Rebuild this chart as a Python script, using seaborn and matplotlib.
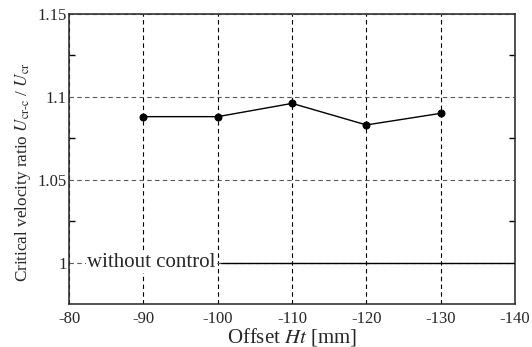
import numpy as np
import pandas as pd
import seaborn as sns
import matplotlib.pyplot as plt

offsets = [-90, -100, -110, -120, -130]
ratios = [1.088, 1.088, 1.096, 1.083, 1.090]
baseline_x = [-100.5, -140]
baseline_y = [1.0, 1.0]
x_ticks = [-80, -90, -100, -110, -120, -130, -140]
y_ticks = [1.0, 1.05, 1.1, 1.15]
y_tick_labels = ['1', '1.05', '1.1', '1.15']

sns.set_theme(style='white')
plt.rcParams['font.family'] = ['Liberation Serif', 'DejaVu Serif']
plt.rcParams['mathtext.fontset'] = 'stix'

df = pd.DataFrame({'offset': offsets, 'ratio': ratios})

fig, ax = plt.subplots(figsize=(5.32, 3.47), dpi=100)
sns.lineplot(data=df, x='offset', y='ratio', color='black', lw=1,
             marker='o', markersize=5, markeredgecolor='black', ax=ax, zorder=3)
ax.plot(baseline_x, baseline_y, color='black', lw=1, zorder=3)
ax.text(-82.4, 1.0, 'without control', fontsize=15, va='center', ha='left', zorder=4,
        bbox=dict(facecolor='white', edgecolor='none', pad=1))

ax.set_xlim(-80, -140)
ax.set_ylim(0.975, 1.15)
ax.set_xticks(x_ticks)
ax.set_xticklabels([str(v) for v in x_ticks])
ax.set_yticks(y_ticks)
ax.set_yticklabels(y_tick_labels)
ax.set_yticks([1.025, 1.075, 1.125], minor=True)
ax.tick_params(axis='both', which='both', direction='in', labelsize=12,
               left=True, right=True, bottom=True, top=False, color='black')
ax.tick_params(axis='y', which='major', length=0, pad=2)
ax.tick_params(axis='y', which='minor', length=4)
ax.tick_params(axis='x', which='major', length=0, pad=5)

ax.grid(axis='x', color='black', ls='--', lw=0.8, dashes=(4, 3))
ax.grid(axis='y', color='0.35', ls='--', lw=0.8, dashes=(4, 3))
for s in ax.spines.values():
    s.set_color('0.2')
    s.set_linewidth(1.2)

ax.set_xlabel(r'Offset $Ht$ [mm]', fontsize=15, labelpad=-1)
ax.set_ylabel(r'Critical velocity ratio $U_{\mathrm{cr\text{-}c}}$ / $U_{\mathrm{cr}}$',
              fontsize=12.3)
ax.yaxis.set_label_coords(-0.082, 0.455)

fig.subplots_adjust(left=0.13, right=0.968, top=0.96, bottom=0.124)
fig.savefig('out.png', dpi=100)
